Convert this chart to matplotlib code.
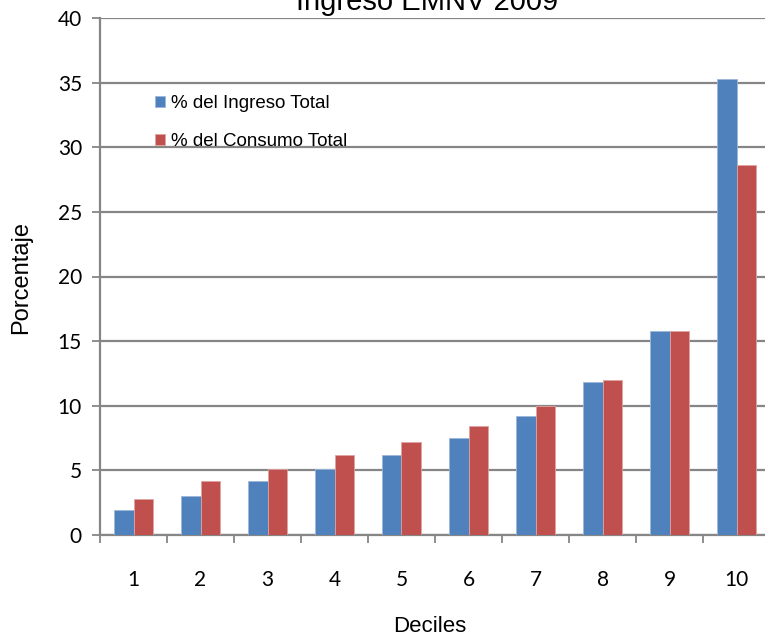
import matplotlib
matplotlib.use("Agg")
import matplotlib.pyplot as plt
import numpy as np

deciles = ["1", "2", "3", "4", "5", "6", "7", "8", "9", "10"]
ingreso = [1.9, 3.0, 4.2, 5.1, 6.2, 7.5, 9.2, 11.8, 15.8, 35.3]
consumo = [2.8, 4.2, 5.1, 6.2, 7.2, 8.4, 10.0, 12.0, 15.8, 28.6]
series_labels = ["% del Ingreso Total", "% del Consumo Total"]
title = "Ingreso EMNV 2009"

W, H = 765, 639
fig = plt.figure(figsize=(W / 100, H / 100), dpi=100)
left, right, top, bottom = 100, 770, 18, 535
ax = fig.add_axes([left / W, 1 - bottom / H, (right - left) / W, (bottom - top) / H])

blue = "#4F81BD"
red = "#C0504D"
grid = "#868686"

x = np.arange(len(deciles))
bw = 0.29
b1 = ax.bar(x - bw / 2, ingreso, width=bw, color=blue, edgecolor="#9db7d9", linewidth=0.6, zorder=3)
b2 = ax.bar(x + bw / 2, consumo, width=bw, color=red, edgecolor="#e0a3a1", linewidth=0.6, zorder=3)

ax.set_xlim(-0.5, len(deciles) - 0.5)
ax.set_ylim(0, 40)
ax.set_yticks(np.arange(0, 41, 5))
ax.yaxis.grid(True, color=grid, linewidth=1.6, zorder=0)
ax.set_axisbelow(True)

for s in ["top", "right"]:
    ax.spines[s].set_visible(False)
for s in ["left", "bottom"]:
    ax.spines[s].set_color(grid)
    ax.spines[s].set_linewidth(1.6)

ax.set_xticks(x)
ax.set_xticklabels(deciles)
ax.set_xticks(np.arange(-0.5, len(deciles) + 0.5, 1), minor=True)
ax.tick_params(axis="x", which="major", length=0, pad=25, labelsize=15)
ax.tick_params(axis="x", which="minor", length=6, width=1.3, color=grid, direction="out")
ax.tick_params(axis="y", length=6, width=1.3, color=grid, direction="out", pad=7, labelsize=15)
for lab in ax.get_xticklabels() + ax.get_yticklabels():
    lab.set_fontfamily(["Lato", "DejaVu Sans"])

fig.text(21 / W, 1 - 277 / H, "Porcentaje", ha="center", va="center", rotation=90,
         fontsize=17, family=["Liberation Sans", "DejaVu Sans"])
fig.text(430 / W, 1 - 627 / H, "Deciles", ha="center", va="center", fontsize=16,
         family=["Liberation Sans", "DejaVu Sans"])

fig.text(427 / W, 1 - 10 / H, title, ha="center", va="baseline", fontsize=21,
         family=["Liberation Sans", "DejaVu Sans"])

leg = fig.legend([b1, b2], series_labels, loc="upper left",
                 bbox_to_anchor=(138 / W, 1 - 78 / H), frameon=False,
                 handlelength=0.55, handleheight=0.55, handletextpad=0.3,
                 labelspacing=1.15, prop={"family": ["Liberation Sans", "DejaVu Sans"], "size": 13.5})

fig.savefig("out.png", dpi=100)
